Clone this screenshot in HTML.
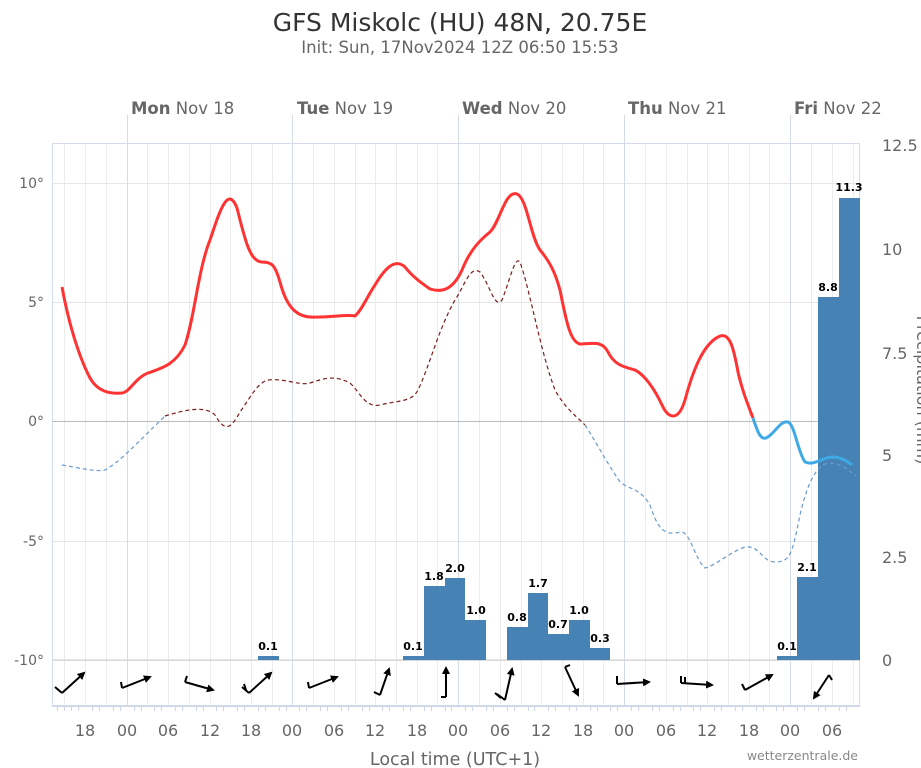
<!DOCTYPE html>
<html><head><meta charset="utf-8"><style>
body{margin:0;background:#fff;}
svg{display:block;font-family:"DejaVu Sans","Liberation Sans",sans-serif;}
</style></head><body>
<svg width="921" height="768" viewBox="0 0 921 768" xmlns="http://www.w3.org/2000/svg">
<rect width="921" height="768" fill="#fff"/>
<text x="460" y="31" text-anchor="middle" font-size="25" fill="#333">GFS Miskolc (HU) 48N, 20.75E</text>
<text x="460" y="53" text-anchor="middle" font-size="16.5" fill="#666">Init: Sun, 17Nov2024 12Z 06:50 15:53</text>
<g stroke="#ececec" stroke-width="1">
<path d="M64.5 143V706M85.5 143V706M106.5 143V706M147.5 143V706M168.5 143V706M189.5 143V706M210.5 143V706M230.5 143V706M251.5 143V706M272.5 143V706M313.5 143V706M334.5 143V706M355.5 143V706M375.5 143V706M396.5 143V706M417.5 143V706M437.5 143V706M479.5 143V706M500.5 143V706M521.5 143V706M541.5 143V706M562.5 143V706M583.5 143V706M603.5 143V706M645.5 143V706M666.5 143V706M687.5 143V706M707.5 143V706M728.5 143V706M749.5 143V706M769.5 143V706M811.5 143V706M832.5 143V706M853.5 143V706"/>
</g>
<g stroke="#e6e6e6"><path d="M52 183.5H860M52 302.5H860M52 541.5H860M52 660.5H860"/></g>
<g stroke="#d5dbe9"><path d="M127.5 115V706M292.5 115V706M458.5 115V706M624.5 115V706M790.5 115V706"/>
<rect x="52.5" y="143.5" width="807" height="562" fill="none"/></g>
<path d="M52 421.5H860" stroke="#bbb"/>
<g stroke="#ccc"><path d="M52 660H860"/></g>
<g stroke="#ccd6eb"><path d="M52 706.5H860"/>
<path d="M57.5 706v5M64.5 706v5M71.5 706v5M78.5 706v5M92.5 706v5M99.5 706v5M113.5 706v5M120.5 706v5M134.5 706v5M141.5 706v5M154.5 706v5M161.5 706v5M175.5 706v5M182.5 706v5M196.5 706v5M203.5 706v5M216.5 706v5M223.5 706v5M237.5 706v5M244.5 706v5M258.5 706v5M265.5 706v5M279.5 706v5M286.5 706v5M299.5 706v5M306.5 706v5M320.5 706v5M327.5 706v5M341.5 706v5M348.5 706v5M362.5 706v5M369.5 706v5M382.5 706v5M389.5 706v5M403.5 706v5M410.5 706v5M424.5 706v5M431.5 706v5M445.5 706v5M451.5 706v5M465.5 706v5M472.5 706v5M486.5 706v5M493.5 706v5M507.5 706v5M514.5 706v5M528.5 706v5M534.5 706v5M548.5 706v5M555.5 706v5M569.5 706v5M576.5 706v5M590.5 706v5M597.5 706v5M610.5 706v5M617.5 706v5M631.5 706v5M638.5 706v5M652.5 706v5M659.5 706v5M673.5 706v5M680.5 706v5M693.5 706v5M700.5 706v5M714.5 706v5M721.5 706v5M735.5 706v5M742.5 706v5M756.5 706v5M763.5 706v5M776.5 706v5M783.5 706v5M797.5 706v5M804.5 706v5M818.5 706v5M825.5 706v5M839.5 706v5M846.5 706v5"/></g>
<g font-size="16.5" fill="#666">
<text x="131" y="114"><tspan font-weight="bold">Mon</tspan> Nov 18</text>
<text x="297" y="114"><tspan font-weight="bold">Tue</tspan> Nov 19</text>
<text x="462" y="114"><tspan font-weight="bold">Wed</tspan> Nov 20</text>
<text x="628" y="114"><tspan font-weight="bold">Thu</tspan> Nov 21</text>
<text x="794" y="114"><tspan font-weight="bold">Fri</tspan> Nov 22</text>
</g>
<g font-size="14" fill="#666" text-anchor="end">
<text x="44" y="188">10°</text><text x="44" y="307">5°</text><text x="44" y="426">0°</text><text x="44" y="546">-5°</text><text x="44" y="665">-10°</text>
</g>
<g font-size="16" fill="#666">
<text x="882" y="151">12.5</text><text x="882" y="255">10</text><text x="882" y="359">7.5</text><text x="882" y="461">5</text><text x="882" y="563">2.5</text><text x="882" y="666">0</text>
</g>
<text transform="translate(917,390) rotate(90)" font-size="16" fill="#666" text-anchor="middle">Precipitation (mm)</text>
<g font-size="16" fill="#666" text-anchor="middle">
<text x="85" y="736">18</text><text x="127" y="736">00</text><text x="168" y="736">06</text><text x="210" y="736">12</text><text x="251" y="736">18</text><text x="292" y="736">00</text><text x="334" y="736">06</text><text x="375" y="736">12</text><text x="417" y="736">18</text><text x="458" y="736">00</text><text x="500" y="736">06</text><text x="541" y="736">12</text><text x="583" y="736">18</text><text x="624" y="736">00</text><text x="666" y="736">06</text><text x="707" y="736">12</text><text x="749" y="736">18</text><text x="790" y="736">00</text><text x="832" y="736">06</text>
<text x="455" y="765" font-size="17.5">Local time (UTC+1)</text>
</g>
<text x="858" y="760" text-anchor="end" font-size="12.5" fill="#888">wetterzentrale.de</text>
<g fill="#4682b4">
<rect x="258" y="656" width="21" height="4"/>
<rect x="403" y="656" width="21" height="4"/>
<rect x="424" y="586" width="21" height="74"/>
<rect x="445" y="578" width="20" height="82"/>
<rect x="465" y="620" width="21" height="40"/>
<rect x="507" y="627" width="21" height="33"/>
<rect x="528" y="593" width="20" height="67"/>
<rect x="548" y="634" width="21" height="26"/>
<rect x="569" y="620" width="21" height="40"/>
<rect x="590" y="648" width="20" height="12"/>
<rect x="777" y="656" width="20" height="4"/>
<rect x="797" y="577" width="21" height="83"/>
<rect x="818" y="297" width="21" height="363"/>
<rect x="839" y="198" width="21" height="462"/>
</g>
<g font-size="11" font-weight="bold" fill="#000" text-anchor="middle">
<text x="268" y="650">0.1</text><text x="413" y="650">0.1</text><text x="434" y="580">1.8</text><text x="455" y="572">2.0</text><text x="476" y="614">1.0</text><text x="517" y="621">0.8</text><text x="538" y="587">1.7</text><text x="558" y="628">0.7</text><text x="579" y="614">1.0</text><text x="600" y="642">0.3</text><text x="787" y="650">0.1</text><text x="807" y="571">2.1</text><text x="828" y="291">8.8</text><text x="849" y="191">11.3</text>
</g>
<path d="M62 465 C80 468,95 472,105 470 C120 462,140 440,165 416" fill="none" stroke="#6a9ad0" stroke-width="1.2" stroke-dasharray="4,3"/>
<path d="M165 416 C185 410,205 405,215 415 C225 432,230 430,240 412 C250 398,258 382,268 380 C285 378,300 386,310 383 C325 378,335 375,350 383 C360 392,365 408,380 405 C400 400,412 402,418 390 C430 365,438 330,455 300 C465 285,470 265,480 272 C490 285,495 310,502 300 C510 280,515 255,520 262 C530 290,540 350,555 390 C565 408,575 415,585 425" fill="none" stroke="#7a1c1c" stroke-width="1.2" stroke-dasharray="4,3"/>
<path d="M585 425 C595 440,605 460,620 482 C630 490,640 488,650 505 C658 530,665 536,680 532 C690 530,695 560,705 568 C715 566,730 552,745 547 C760 545,762 562,775 562 C790 562,792 555,800 515 C808 480,818 463,830 463 C842 463,850 472,856 476" fill="none" stroke="#6a9ad0" stroke-width="1.2" stroke-dasharray="4,3"/>
<path d="M62 287 C68 320,78 355,90 378 C98 392,110 394,122 393 C130 392,135 378,148 373 C162 368,175 365,185 345 C195 315,198 270,210 240 C220 210,228 185,237 208 C245 240,250 262,262 262 C272 262,275 265,280 282 C286 305,295 316,310 317 C330 318,345 314,355 316 C362 310,368 295,375 285 C385 268,395 258,405 267 C412 276,420 282,430 289 C440 292,452 292,462 270 C470 250,480 240,490 232 C500 222,505 190,517 194 C527 198,530 235,540 250 C550 262,555 272,560 290 C566 320,570 342,580 344 C592 344,602 340,608 352 C615 366,625 367,635 370 C645 375,655 390,662 405 C668 418,678 423,685 400 C693 370,703 345,718 337 C730 330,734 350,738 372 C742 390,748 405,753 418" fill="none" stroke="#ff3333" stroke-width="3"/>
<path d="M753 418 C757 430,760 440,766 438 C774 435,780 420,788 422 C795 425,797 450,805 462 C815 466,820 458,832 457 C842 457,848 462,852 465" fill="none" stroke="#3fa9e6" stroke-width="3"/>
<defs><marker id="ah" markerWidth="8" markerHeight="8" refX="6" refY="4" orient="auto" markerUnits="userSpaceOnUse"><path d="M0 0L8 4L0 8Z" fill="#000"/></marker></defs>
<g stroke="#000" stroke-width="2" fill="none">
<path d="M62 693L84 673" marker-end="url(#ah)"/><path d="M62 693L55 687"/>
<path d="M122 688L150 677" marker-end="url(#ah)"/><path d="M122 688L121 682"/>
<path d="M185 682L213 690" marker-end="url(#ah)"/><path d="M185 682L187 676"/>
<path d="M249 693L271 673" marker-end="url(#ah)"/><path d="M249 693L242 687M246 690L244 684"/>
<path d="M309 688L337 677" marker-end="url(#ah)"/><path d="M309 688L308 682"/>
<path d="M380 695L389 669" marker-end="url(#ah)"/><path d="M380 695L374 692"/>
<path d="M446 697L446 668" marker-end="url(#ah)"/><path d="M446 697L441 697"/>
<path d="M505 700L512 669" marker-end="url(#ah)"/><path d="M505 700L497 694M501 698L495 693"/>
<path d="M565 667L578 695" marker-end="url(#ah)"/><path d="M565 667L570 665"/>
<path d="M617 684L649 682" marker-end="url(#ah)"/><path d="M617 684L617 676"/>
<path d="M681 683L712 685" marker-end="url(#ah)"/><path d="M681 683L681 676M685 684L685 677"/>
<path d="M745 690L772 675" marker-end="url(#ah)"/><path d="M745 690L742 684"/>
<path d="M829 675L814 698" marker-end="url(#ah)"/><path d="M829 675L832 680"/>
</g>
</svg>
</body></html>
